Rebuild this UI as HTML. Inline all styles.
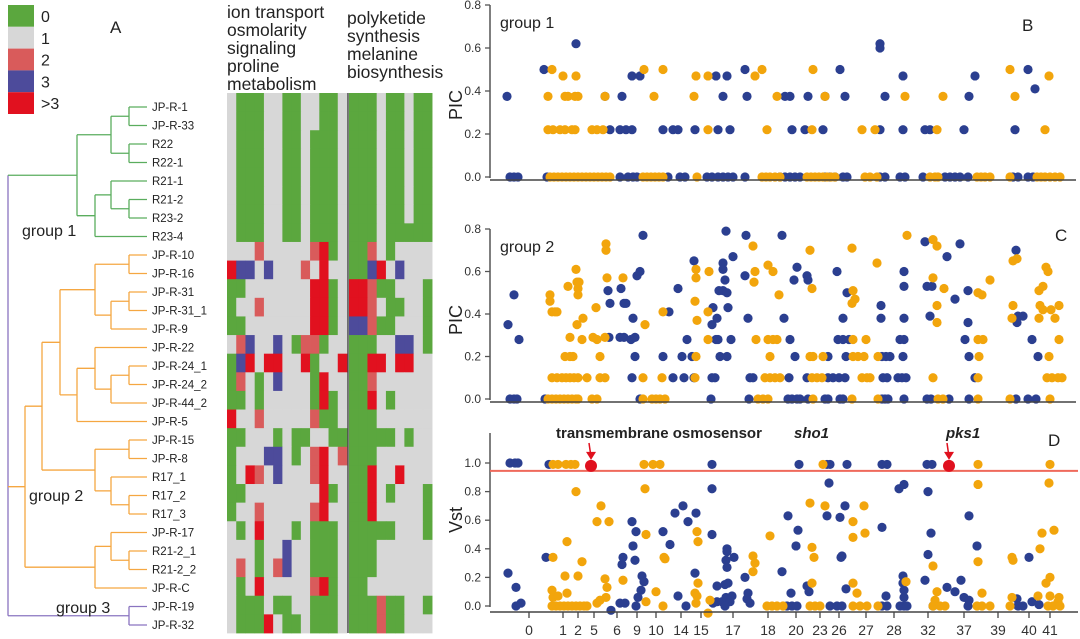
<!DOCTYPE html>
<html><head><meta charset="utf-8"><style>
body{margin:0;background:#fff;}
svg{display:block;font-family:"Liberation Sans",Arial,sans-serif;}
</style></head><body>
<svg id="fig" width="1080" height="639" viewBox="0 0 1080 639" xmlns="http://www.w3.org/2000/svg">
<g id="legend"></g>
<text x="110" y="33" font-size="17" fill="#222">A</text>
<g id="dendro" fill="none" stroke-width="1.3"></g>
<g id="leaves" font-size="11.5" fill="#222"></g>
<text x="22" y="236" font-size="16" fill="#222">group 1</text>
<text x="29" y="501" font-size="16" fill="#222">group 2</text>
<text x="56" y="613" font-size="16" fill="#222">group 3</text>
<g font-size="17.5" fill="#222">
<text x="227" y="18">ion transport</text><text x="227" y="36">osmolarity</text><text x="227" y="54">signaling</text><text x="227" y="72">proline</text><text x="227" y="90">metabolism</text></g>
<g font-size="17.5" fill="#222">
<text x="347" y="24">polyketide</text><text x="347" y="42">synthesis</text><text x="347" y="60">melanine</text><text x="347" y="78">biosynthesis</text></g>
<g id="heat"></g>
<g id="pb"></g>
<g id="pc"></g>
<g id="pd"></g>
</svg>
<script>
const NS="http://www.w3.org/2000/svg";
function mk(parent,tag,attrs,txt){const e=document.createElementNS(NS,tag);for(const k in attrs)e.setAttribute(k,attrs[k]);if(txt!==undefined)e.textContent=txt;parent.appendChild(e);return e;}
const COL=["#5ba73e","#d7d7d7","#d95b5b","#4d4b9b","#e1111f"];
const legendLabels=["0","1","2","3",">3"];
const leafNames=["JP-R-1","JP-R-33","R22","R22-1","R21-1","R21-2","R23-2","R23-4","JP-R-10","JP-R-16","JP-R-31","JP-R-31_1","JP-R-9","JP-R-22","JP-R-24_1","JP-R-24_2","JP-R-44_2","JP-R-5","JP-R-15","JP-R-8","R17_1","R17_2","R17_3","JP-R-17","R21-2_1","R21-2_2","JP-R-C","JP-R-19","JP-R-32"];
const heatLeft=["1000110011001","1000110011001","1000110010001","1000110010001","1000110010001","1000110010001","1000110010001","1000110010001","1112111112401","4331311121411","0011111114401","0112111114401","0011111114401","1231131022011","0341441140114","0210131110411","0010111110401","4112111112001","0011101001100","0111331012412","0142131112411","0011111111401","0112111112411","1014111010001","1110113110001","1210123110001","1014111112401","1000100110001","1000410010001"];
const heatRight=["000100100","000100100","000100100","000100100","000100100","000100100","000100100","000100000","002101111","003413111","442001110","442100110","332001110","000113310","004414411","002111111","004101111","000111111","000001011","000111111","004114111","004101110","004111110","000001110","000111111","000111111","001111111","000200110","000200111"];

const lg=document.getElementById('legend');
legendLabels.forEach((l,i)=>{
  const r=mk(lg,'rect',{x:8,y:5+i*21.8,width:26,height:21.8,fill:COL[i]});
  
  
  const t=mk(lg,'text',{x:41,y:22+i*21.8,'font-size':16,fill:'#222'},l);
  
  
});

const LY=i=>107+i*18.5;
const lv=document.getElementById('leaves');
leafNames.forEach((n,i)=>{const t=mk(lv,'text',{x:152,y:LY(i)+4},n);
  
  });

const dg=document.getElementById('dendro');
function node(x,ys,cx,col){
  const ymin=Math.min(...ys),ymax=Math.max(...ys);
  mk(dg,'line',{x1:x,y1:ymin,x2:x,y2:ymax,stroke:col});
  ys.forEach((y,i)=>mk(dg,'line',{x1:x,y1:y,x2:cx[i],y2:y,stroke:col}));
  return (ymin+ymax)/2;
}
const G="#5aad5e",O="#f5a742",P="#8a74c0",L=147;
let a=node(129,[LY(0),LY(1)],[L,L],G), b=node(129,[LY(2),LY(3)],[L,L],G);
let ab=node(111,[a,b],[129,129],G);
let c=node(129,[LY(5),LY(6)],[L,L],G);
let c2=node(111,[LY(4),c],[L,129],G);
let c3=node(95,[c2,LY(7)],[111,L],G);
let g1=node(77,[ab,c3],[111,95],G);
let d=node(129,[LY(8),LY(9)],[L,L],O);
let e=node(129,[LY(10),LY(11)],[L,L],O);
let e2=node(111,[e,LY(12)],[129,L],O);
let de=node(95,[d,e2],[129,111],O);
let f=node(129,[LY(14),LY(15)],[L,L],O);
let f2=node(111,[f,LY(16)],[129,L],O);
let f3=node(95,[LY(13),f2],[L,111],O);
let f4=node(77,[f3,LY(17)],[95,L],O);
let h1=node(60,[de,f4],[95,77],O);
let gA=node(129,[LY(18),LY(19)],[L,L],O);
let gB=node(129,[LY(21),LY(22)],[L,L],O);
let gB2=node(111,[LY(20),gB],[L,129],O);
let gC=node(95,[gA,gB2],[129,111],O);
let h2=node(42,[h1,gC],[60,95],O);
let k=node(129,[LY(24),LY(25)],[L,L],O);
let k2=node(111,[LY(23),k],[L,129],O);
let k3=node(95,[k2,LY(26)],[111,L],O);
let g2=node(25,[h2,k3],[42,95],O);
let g3=node(129,[LY(27),LY(28)],[L,L],P);
mk(dg,'line',{x1:8,y1:g1,x2:8,y2:g3,stroke:P});
mk(dg,'line',{x1:8,y1:g1,x2:77,y2:g1,stroke:G});
mk(dg,'line',{x1:8,y1:g2,x2:25,y2:g2,stroke:O});
mk(dg,'line',{x1:8,y1:g3,x2:129,y2:g3,stroke:P});

const hg=document.getElementById('heat');
const HT=93,RH=18.62,CW=9.23;
heatLeft.forEach((row,r)=>{[...row].forEach((v,c)=>{
  const el=mk(hg,'rect',{x:227+c*CW,y:HT+r*RH,width:CW+0.4,height:RH+0.4,fill:COL[+v]});
  
  });});
heatRight.forEach((row,r)=>{[...row].forEach((v,c)=>{
  const el=mk(hg,'rect',{x:349+c*CW,y:HT+r*RH,width:CW+0.4,height:RH+0.4,fill:COL[+v]});
  
  });});
mk(hg,'line',{x1:348,y1:HT,x2:348,y2:HT+29*RH,stroke:'#333','stroke-width':1.3});
</script>
<script>
const bBlue=[[17,.375],[20,0],[24,0],[28,0],[54,.5],[86,.62],[57,0],[120,.22],[115,.375],[132,.375],[130,.22],[136,.22],[142,.22],[142,.47],[150,.47],[130,0],[138,0],[143,0],[147,0],[173,.22],[183,.22],[188,.22],[178,0],[190,0],[195,0],[205,.22],[226,.47],[228,.22],[233,.375],[237,.47],[240,.22],[217,0],[222,0],[228,0],[233,0],[238,0],[243,0],[255,.5],[257,.375],[255,0],[295,.375],[300,.375],[302,.22],[290,0],[295,0],[300,0],[305,0],[310,0],[318,.375],[315,.22],[335,.375],[333,.22],[335,0],[340,0],[345,0],[350,.5],[355,.375],[353,0],[357,0],[390,.62],[390,.6],[395,.375],[390,.22],[390,0],[395,0],[413,.47],[413,.22],[410,0],[415,0],[433,0],[435,.22],[440,.22],[455,0],[460,0],[465,0],[470,0],[474,.22],[479,.375],[485,.47],[478,0],[538,.5],[525,.22],[523,0],[528,0],[538,0],[545,.41],[543,0]];
const bOrange=[[62,.5],[73,.47],[58,.375],[75,.375],[78,.375],[85,.375],[88,.375],[86,.47],[58,.22],[63,.22],[70,.22],[75,.22],[82,.22],[85,.22],[102,.22],[107,.22],[113,.22],[115,.375],[154,.5],[164,.375],[173,.5],[204,.375],[206,.47],[218,.47],[218,.22],[265,.47],[272,.5],[287,.375],[277,.22],[323,.5],[322,.22],[335,.375],[372,.22],[385,.22],[415,.375],[453,.375],[447,.22],[520,.5],[525,.375],[559,.47],[555,.22],
[60,0],[64,0],[68,0],[72,0],[76,0],[80,0],[84,0],[88,0],[92,0],[96,0],[100,0],[104,0],[108,0],[112,0],[116,0],[120,0],[153,0],[157,0],[161,0],[165,0],[169,0],[173,0],[207,0],[272,0],[276,0],[280,0],[285,0],[290,0],[317,0],[321,0],[325,0],[329,0],[333,0],[337,0],[341,0],[345,0],[375,0],[380,0],[387,0],[440,0],[445,0],[448,0],[487,0],[491,0],[495,0],[500,0],[520,0],[547,0],[551,0],[555,0],[560,0],[565,0],[570,0]];
const cBlue=[[18,.35],[24,.49],[29,.28],[20,0],[24,0],[27,0],[55,0],[118,.51],[120,.45],[119,.29],[131,.52],[134,.45],[136,.45],[130,.29],[134,.29],[147,.58],[150,.6],[153,.77],[143,.38],[141,.28],[145,.29],[145,.2],[142,.1],[150,0],[179,.41],[173,.2],[183,.1],[188,.52],[197,.28],[192,.2],[194,.1],[202,.2],[204,.1],[204,.65],[222,.35],[223,.43],[227,.38],[226,.28],[228,.28],[222,.1],[225,.1],[221,0],[229,.51],[233,.51],[233,.64],[233,.61],[235,.56],[236,.79],[237,.5],[238,.43],[230,.2],[237,.2],[241,.28],[243,.67],[255,.58],[256,.77],[258,.38],[260,.1],[263,.1],[259,0],
[292,.77],[307,.62],[304,.56],[317,.58],[318,.56],[347,.6],[357,.5],[435,.74],[470,.73],[457,.67],[526,.7],[414,.6],[414,.53],[437,.53],[442,.53],[465,.47],[478,.51],[391,.44],[294,.38],[353,.38],[391,.38],[414,.38],[440,.39],[478,.36],[528,.39],[533,.39],[527,.36],
[300,.28],[348,.28],[353,.28],[359,.28],[410,.28],[414,.28],[475,.28],[542,.28],[305,.2],[338,.2],[356,.2],[392,.2],[396,.2],[400,.2],[413,.2],[479,.2],[548,.2],
[299,.1],[317,.1],[338,.1],[343,.1],[349,.1],[355,.1],[393,.1],[397,.1],[408,.1],[412,.1],[416,.1],[485,.1],
[298,0],[302,0],[307,0],[310,0],[318,0],[335,0],[338,0],[350,0],[353,0],[392,0],[395,0],[398,0],[414,0],[437,0],[441,0],[459,0],[479,0],[526,0],[538,0],[546,0]];
const cOrange=[[60,.49],[60,.46],[62,.41],[65,.41],[67,.41],[78,.53],[86,.61],[87,.55],[89,.55],[88,.52],[88,.49],[87,.35],[93,.38],[80,.29],[92,.28],[75,.2],[80,.2],[83,.2],
[62,.1],[67,.1],[72,.1],[76,.1],[80,.1],[84,.1],[88,.1],[97,.1],[58,0],[62,0],[66,0],[70,0],[74,0],[78,0],[82,0],[86,0],[88,0],[102,0],[107,0],
[106,.43],[103,.29],[107,.28],[110,.2],[110,.1],[115,.1],[116,.73],[116,.7],[117,.57],[115,.29],[133,.57],[155,.35],[153,.1],[153,0],[162,0],[166,0],[170,0],[175,0],[173,.41],[172,.1],[206,.2],[205,.1],[206,.61],[206,.57],[205,.46],[207,.37],[219,.6],[218,.41],[218,.28],[263,.72],[265,.6],[264,.55],[266,.28],[268,0],
[320,.7],[362,.71],[417,.77],[443,.75],[447,.72],[523,.65],[527,.66],[278,.63],[283,.6],[322,.52],[289,.49],[387,.64],[443,.57],[454,.52],[363,.51],[365,.47],[362,.45],[488,.5],[492,.49],[500,.56],[447,.44],[523,.44],[549,.51],[553,.53],[556,.62],[558,.6],[550,.44],[553,.42],[561,.42],[569,.44],[447,.36],[522,.38],[549,.38],[565,.38],
[278,.28],[283,.28],[287,.28],[363,.28],[376,.28],[488,.28],[493,.28],[569,.28],
[280,.2],[320,.2],[323,.2],[333,.2],[363,.2],[368,.2],[374,.2],[388,.2],[489,.2],[559,.2],
[275,.1],[280,.1],[285,.1],[290,.1],[322,.1],[327,.1],[332,.1],[372,.1],[377,.1],[380,.1],[443,.1],[488,.1],[557,.1],[562,.1],[568,.1],[572,.1],
[273,0],[278,0],[323,0],[362,0],[388,0],[448,0],[453,0],[488,0],[520,0],[560,0]];
const dBlue=[[20,1],[25,1],[28,1],[59,.99],[222,.99],[222,.82],[56,.34],[18,.23],[26,.13],[26,0],[31,.02],[142,.59],[146,.52],[143,.42],[145,.32],[152,.21],[154,.17],[151,.11],[148,.06],[146,0],[173,.52],[180,.43],[185,.65],[193,.7],[198,.59],[206,.65],[188,.07],[196,0],[205,.23],[222,.5],[223,.02],[227,.14],[227,.03],[232,.03],[235,.15],[238,.16],[237,.4],[237,.38],[236,.32],[237,.27],[236,.06],[240,.03],[244,.34],[242,.07],[235,0],[255,.2],[258,.09],[257,.05],[260,.02],[121,-.03],[132,.29],[133,.34],[130,.02],[135,.02],
[309,.99],[337,.99],[340,.99],[357,.99],[392,.99],[397,.99],[437,.99],[442,.99],[339,.86],[409,.82],[414,.85],[438,.8],[337,.63],[350,.62],[355,.7],[298,.63],[308,.53],[306,.42],[392,.55],[441,.51],[438,.36],[479,.63],[487,.42],[352,.35],[351,.34],[539,.34],[292,.24],[317,.14],[319,.1],[301,.09],[356,.12],[396,.07],[435,.18],[413,.21],[413,.16],[414,.11],[414,.06],[457,.13],[465,.1],[471,.18],[474,.06],[479,.04],[527,.05],[542,.03],[549,.01],
[297,0],[302,0],[307,0],[340,0],[347,0],[352,0],[392,0],[397,0],[410,0],[414,0],[417,0],[443,0],[478,0],[528,0],[533,0]];
const dOrange=[[63,.99],[68,.99],[76,.99],[81,.99],[85,.99],[154,.99],[163,.99],[170,.99],[155,.82],[86,.8],[111,.7],[107,.59],[119,.59],[77,.45],[92,.31],[75,.21],[88,.21],[63,.34],[62,.11],[63,.06],[77,.09],[68,.07],[115,.19],[117,.13],[116,.06],[107,.02],[110,.04],[133,.18],[156,.5],[156,.03],[166,.1],[173,0],[174,.34],[175,.33],[207,.52],[208,.45],[208,.16],[205,.09],[207,.07],[206,.02],[220,.04],[218,-.05],[263,.35],[265,.3],[263,.24],
[62,0],[66,0],[70,0],[74,0],[78,0],[82,0],[86,0],[90,0],[94,0],[97,0],
[333,.99],[488,.99],[560,.99],[488,.85],[559,.86],[320,.72],[335,.7],[374,.7],[363,.59],[363,.48],[375,.51],[280,.49],[322,.41],[324,.34],[443,.28],[488,.31],[522,.34],[523,.32],[550,.4],[552,.51],[564,.53],[560,.2],[556,.16],[322,.16],[363,.16],[367,.09],[416,.17],[447,.1],[445,.04],[492,.09],[522,.06],[548,.07],[560,.07],[569,.06],[568,.03],
[277,0],[282,0],[287,0],[293,0],[320,0],[325,0],[330,0],[363,0],[370,0],[377,0],[388,0],[443,0],[450,0],[455,0],[487,0],[492,0],[500,0],[520,0],[558,0],[563,0],[570,0]];
const dHighlight=[[101,.98],[459,.98]];
const dThreshold=0.945;
const pTicks=[0,0.2,0.4,0.6,0.8];
const vTicks=[0,0.2,0.4,0.6,0.8,1.0];
const contigLabels=["0","1","2","5","6","9","10","14","15","17","18","20","23","26","27","28","32","37","39","40","41"];
const contigPos=[39,73,88,104,127,147,166,191,211,243,278,306,330,349,376,404,438,474,508,539,560];

const BLUE="#2b3f90",ORANGE="#f2a50c";
const X0=490, XSPAN=586;
const xs=v=>X0+v*(XSPAN/586);

function panel(gid,yZero,yPerUnit,yTop,ticks,ylabel,ylabelY,group,letter,letterPos,data){
  const g=document.getElementById(gid);
  const ys=v=>yZero-v*yPerUnit;
  mk(g,'line',{x1:X0,y1:yTop,x2:X0,y2:yZero+1,stroke:'#555','stroke-width':1.5});
  ticks.forEach(t=>{
    mk(g,'line',{x1:X0-5,y1:ys(t),x2:X0,y2:ys(t),stroke:'#555','stroke-width':1.3});
    const tl=mk(g,'text',{x:X0-9,y:ys(t)+4,'font-size':12,fill:'#333','text-anchor':'end'},t.toFixed(1));
    
    
  });
  const yl=mk(g,'text',{x:0,y:0,'font-size':18,fill:'#222','text-anchor':'middle',transform:`translate(462,${ylabelY}) rotate(-90)`},ylabel);
  
  
  if(group){const gt=mk(g,'text',{x:500,y:yTop+23,'font-size':16,fill:'#222'},group);
    
    }
  const lt=mk(g,'text',{x:letterPos[0],y:letterPos[1],'font-size':17,fill:'#222'},letter);
  
  
  data.forEach(([arr,col])=>arr.forEach(([x,y])=>{
    const c=mk(g,'circle',{cx:xs(x),cy:ys(y),r:4.6,fill:col});
    
    
  }));
  return ys;
}
(function(){
  panel('pb',177,215,5,pTicks,'PIC',105,'group 1','B',[1022,31],[[bBlue,BLUE],[bOrange,ORANGE]]);
  mk(document.getElementById('pb'),'line',{x1:X0,y1:180,x2:1076,y2:180,stroke:'#444','stroke-width':1.4});
})();
(function(){
  panel('pc',399,212.5,229,pTicks,'PIC',320,'group 2','C',[1055,241],[[cBlue,BLUE],[cOrange,ORANGE]]);
  mk(document.getElementById('pc'),'line',{x1:X0,y1:402,x2:1076,y2:402,stroke:'#444','stroke-width':1.4});
})();
(function(){
  const g=document.getElementById('pd');
  const ys=panel('pd',606,143,433,vTicks,'Vst',520,null,'D',[1048,446],[[dBlue,BLUE],[dOrange,ORANGE]]);
  mk(g,'line',{x1:X0,y1:612,x2:1078,y2:612,stroke:'#444','stroke-width':1.5});
  const th=mk(g,'line',{x1:X0,y1:ys(dThreshold),x2:1078,y2:ys(dThreshold),stroke:'#ef6a5c','stroke-width':2});
  
  
  contigLabels.forEach((l,i)=>{
    mk(g,'line',{x1:xs(contigPos[i]),y1:612,x2:xs(contigPos[i]),y2:618,stroke:'#444','stroke-width':1.3});
    const t=mk(g,'text',{x:xs(contigPos[i]),y:635,'font-size':14,fill:'#333','text-anchor':'middle'},l);
    
    
  });
  dHighlight.forEach(([x,y],i)=>{
    const c=mk(g,'circle',{cx:xs(x),cy:ys(y),r:6,fill:'#e0101e'});
    
    
    const ax=xs(x);
    mk(g,'line',{x1:ax-2,y1:443,x2:ax,y2:ys(y)-9,stroke:'#e0101e','stroke-width':1.5});
    mk(g,'polygon',{points:`${ax-5},${ys(y)-14} ${ax+5},${ys(y)-14} ${ax},${ys(y)-6}`,fill:'#e0101e'});
  });
  const a1=mk(g,'text',{x:556,y:438,'font-size':15,'font-weight':'bold',fill:'#222'},'transmembrane osmosensor');
  
  
  const a2=mk(g,'text',{x:794,y:438,'font-size':15,'font-weight':'bold','font-style':'italic',fill:'#222'},'sho1');
  
  
  const a3=mk(g,'text',{x:946,y:438,'font-size':15,'font-weight':'bold','font-style':'italic',fill:'#222'},'pks1');
  
  
})();
</script>
</body></html>
